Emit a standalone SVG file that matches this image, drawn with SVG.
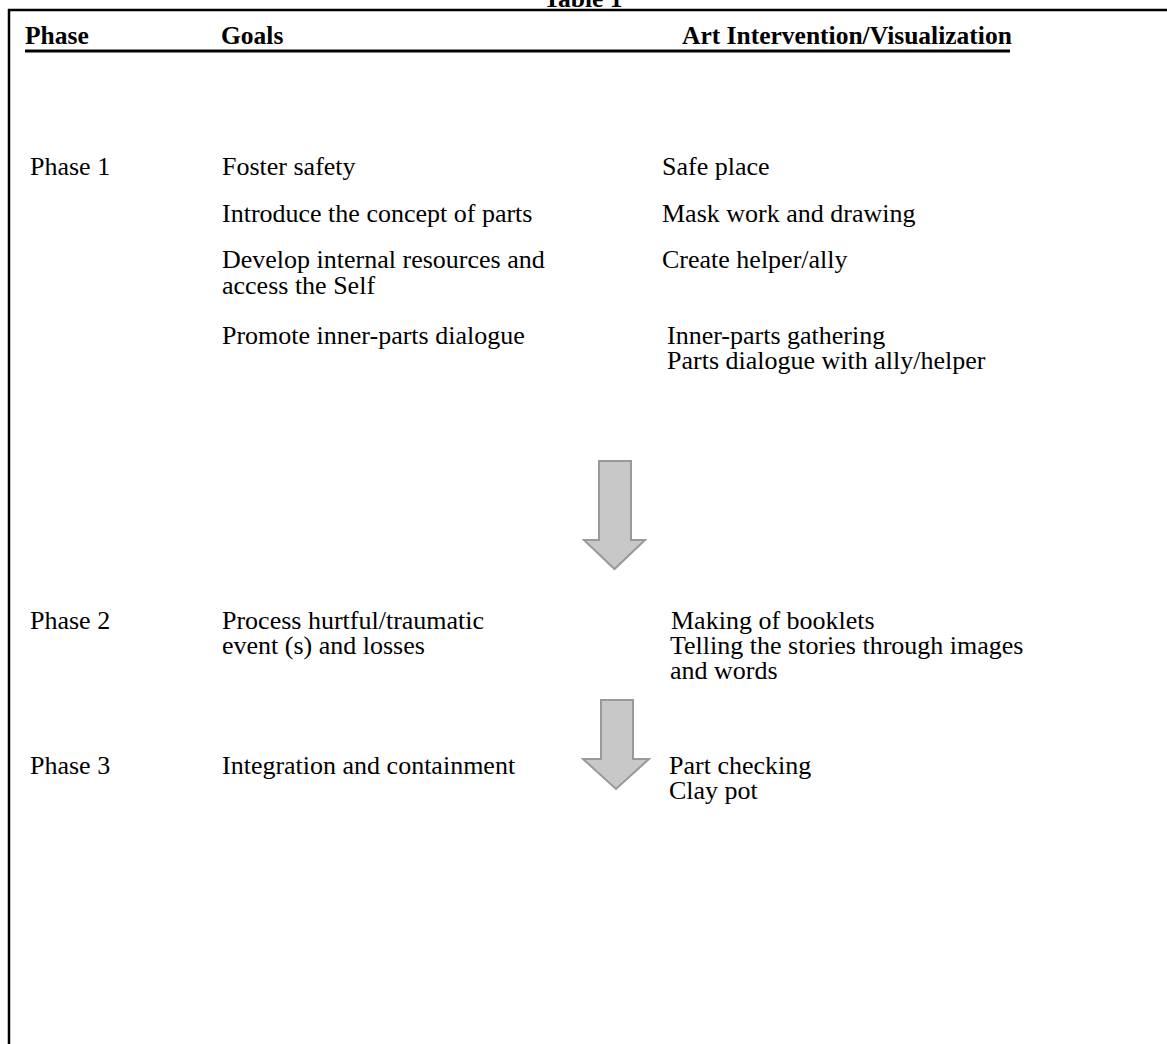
<svg xmlns="http://www.w3.org/2000/svg" width="1167" height="1044" viewBox="0 0 1167 1044">
<style>
text{font-family:"Liberation Serif","Times New Roman",serif;font-size:26px;fill:#000}
.h{font-weight:bold;font-size:25.5px}
.arrow{fill:#c8c8c8;stroke:#999;stroke-width:2}
</style>
<rect width="1167" height="1044" fill="#fff"/>
<g id="frame">
<line x1="8" y1="10" x2="1167" y2="10" stroke="#000" stroke-width="2.5"/>
<line x1="9" y1="9" x2="9" y2="1044" stroke="#000" stroke-width="2.5"/>
<text class="h" x="583" y="7" text-anchor="middle">Table 1</text>
</g>
<g id="header">
<text class="h" x="25" y="44">Phase</text>
<text class="h" x="221" y="44">Goals</text>
<text class="h" x="682" y="44">Art Intervention/Visualization</text>
<line x1="25" y1="51" x2="1010" y2="51" stroke="#000" stroke-width="3"/>
</g>
<g id="phase1">
<text x="30" y="175">Phase 1</text>
<text x="222" y="175">Foster safety</text>
<text x="662" y="175">Safe place</text>
<text x="222" y="222">Introduce the concept of parts</text>
<text x="662" y="222">Mask work and drawing</text>
<text x="222" y="268">Develop internal resources and</text>
<text x="222" y="294">access the Self</text>
<text x="662" y="268">Create helper/ally</text>
<text x="222" y="344">Promote inner-parts dialogue</text>
<text x="667" y="344">Inner-parts gathering</text>
<text x="667" y="369">Parts dialogue with ally/helper</text>
</g>
<g id="phase2">
<text x="30" y="629">Phase 2</text>
<text x="222" y="629">Process hurtful/traumatic</text>
<text x="222" y="654">event (s) and losses</text>
<text x="671" y="629">Making of booklets</text>
<text x="670" y="654">Telling the stories through images</text>
<text x="670" y="679">and words</text>
</g>
<g id="phase3">
<text x="30" y="774">Phase 3</text>
<text x="222" y="774">Integration and containment</text>
<text x="669" y="774">Part checking</text>
<text x="669" y="799">Clay pot</text>
</g>
<g id="connectors">
<path class="arrow" d="M599,461 H631 V540 H645 L614.5,569 L584,540 H599 Z"/>
<path class="arrow" d="M601,700 H633 V759 H649 L616,789 L583,759 H601 Z"/>
</g>
</svg>
